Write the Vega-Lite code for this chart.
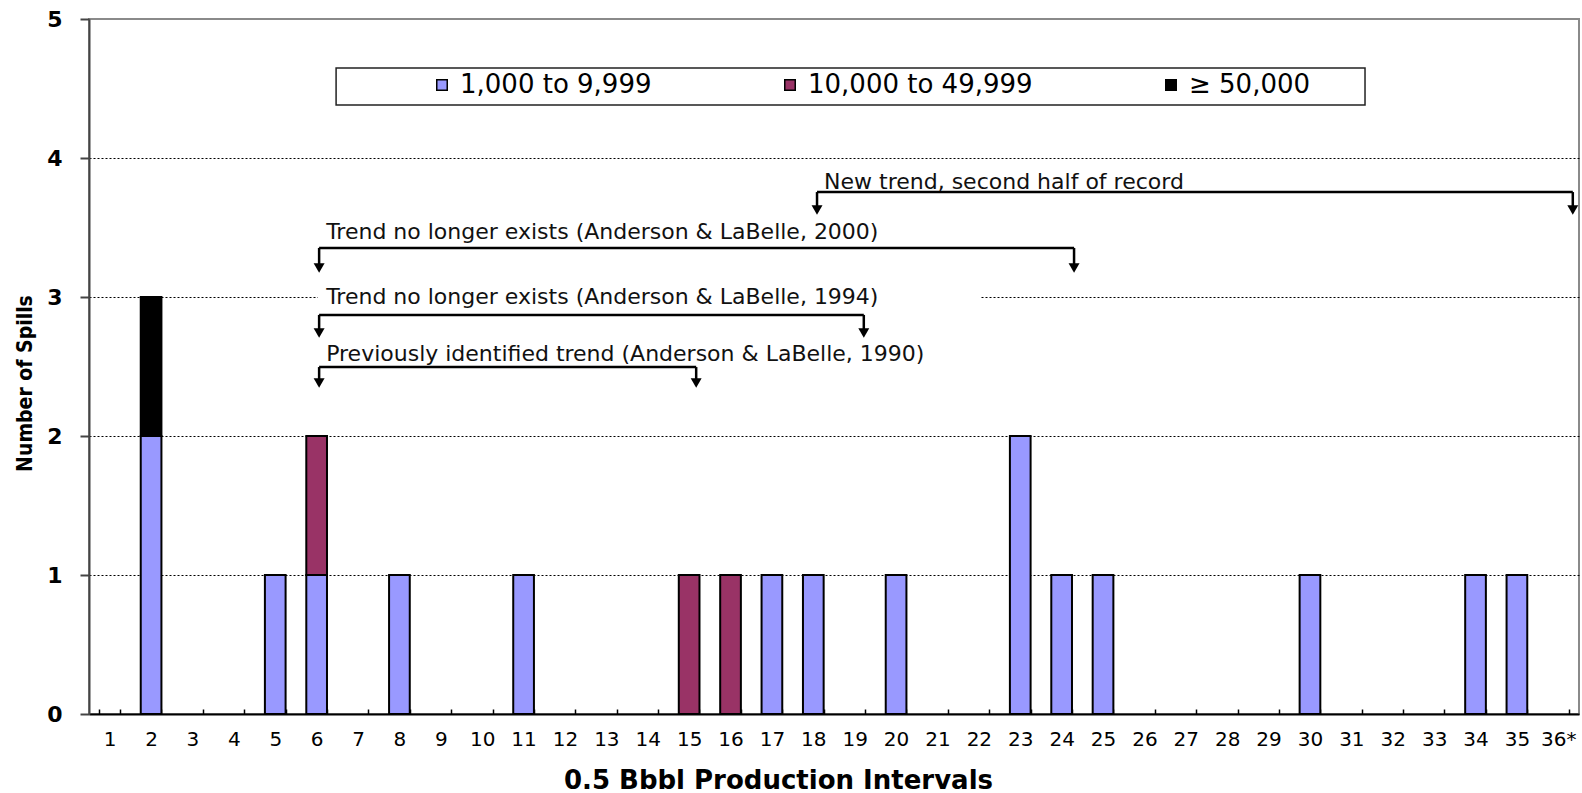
{
  "$schema": "https://vega.github.io/schema/vega-lite/v6.json",
  "width": 1490,
  "height": 695,
  "autosize": {"type": "none"},
  "padding": {"left": 89, "top": 19, "right": 3, "bottom": 79},
  "background": "white",
  "config": {
    "view": {"stroke": "#8a8a8a", "strokeWidth": 2},
    "font": "DejaVu Sans"
  },
  "datasets": {
    "spills": [
      {"interval": "2", "size": "1,000 to 9,999", "spills": 2, "rank": 1},
      {"interval": "2", "size": "≥ 50,000", "spills": 1, "rank": 3},
      {"interval": "5", "size": "1,000 to 9,999", "spills": 1, "rank": 1},
      {"interval": "6", "size": "1,000 to 9,999", "spills": 1, "rank": 1},
      {"interval": "6", "size": "10,000 to 49,999", "spills": 1, "rank": 2},
      {"interval": "8", "size": "1,000 to 9,999", "spills": 1, "rank": 1},
      {"interval": "11", "size": "1,000 to 9,999", "spills": 1, "rank": 1},
      {"interval": "15", "size": "10,000 to 49,999", "spills": 1, "rank": 2},
      {"interval": "16", "size": "10,000 to 49,999", "spills": 1, "rank": 2},
      {"interval": "17", "size": "1,000 to 9,999", "spills": 1, "rank": 1},
      {"interval": "18", "size": "1,000 to 9,999", "spills": 1, "rank": 1},
      {"interval": "20", "size": "1,000 to 9,999", "spills": 1, "rank": 1},
      {"interval": "23", "size": "1,000 to 9,999", "spills": 2, "rank": 1},
      {"interval": "24", "size": "1,000 to 9,999", "spills": 1, "rank": 1},
      {"interval": "25", "size": "1,000 to 9,999", "spills": 1, "rank": 1},
      {"interval": "30", "size": "1,000 to 9,999", "spills": 1, "rank": 1},
      {"interval": "34", "size": "1,000 to 9,999", "spills": 1, "rank": 1},
      {"interval": "35", "size": "1,000 to 9,999", "spills": 1, "rank": 1}
    ],
    "trends": [
      {"label": "New trend, second half of record", "from": 18.09, "to": 36.35, "textX": 18.26, "textY": 3.827, "lineY": 3.755, "tipY": 3.626},
      {"label": "Trend no longer exists (Anderson & LaBelle, 2000)", "from": 6.06, "to": 24.3, "textX": 6.23, "textY": 3.468, "lineY": 3.353, "tipY": 3.209},
      {"label": "Trend no longer exists (Anderson & LaBelle, 1994)", "from": 6.06, "to": 19.22, "textX": 6.23, "textY": 3.0, "lineY": 2.871, "tipY": 2.741, "maskFrom": 6.03, "maskTo": 22.03},
      {"label": "Previously identified trend (Anderson & LaBelle, 1990)", "from": 6.06, "to": 15.17, "textX": 6.23, "textY": 2.59, "lineY": 2.496, "tipY": 2.381}
    ]
  },
  "layer": [
    {
      "data": {"name": "spills"},
      "mark": {"type": "bar", "stroke": "black", "strokeWidth": 2},
      "encoding": {
        "x": {
          "field": "interval",
          "type": "ordinal",
          "scale": {
            "domain": ["1","2","3","4","5","6","7","8","9","10","11","12","13","14","15","16","17","18","19","20","21","22","23","24","25","26","27","28","29","30","31","32","33","34","35","36*"],
            "paddingInner": 0.5,
            "paddingOuter": 0.25
          },
          "axis": {
            "title": "0.5 Bbbl Production Intervals",
            "titleFont": "DejaVu Sans",
            "titleFontSize": 26,
            "titleFontWeight": "bold",
            "titleColor": "black",
            "titleX": 689,
            "titleY": 74,
            "titleBaseline": "alphabetic",
            "titleAlign": "center",
            "labelAngle": 0,
            "labelFont": "DejaVu Sans",
            "labelFontSize": 20,
            "labelColor": "black",
            "labelPadding": 20,
            "tickBand": "extent",
            "tickSize": -5,
            "tickColor": "black",
            "tickWidth": 1.5,
            "domainColor": "black",
            "domainWidth": 2,
            "grid": false
          }
        },
        "y": {
          "field": "spills",
          "type": "quantitative",
          "stack": "zero",
          "title": "Number of Spills",
          "scale": {"domain": [0, 5], "nice": false},
          "axis": {
            "values": [0, 1, 2, 3, 4, 5],
            "format": "d",
            "title": "Number of Spills",
            "titleFont": "Liberation Sans Narrow, DejaVu Sans Condensed, Liberation Sans",
            "titleFontSize": 21,
            "titleFontWeight": "bold",
            "titleColor": "black",
            "titleAngle": -90,
            "titleX": -64,
            "titleY": 364,
            "titleAlign": "center",
            "titleBaseline": "middle",
            "labelFont": "DejaVu Sans",
            "labelFontSize": 22,
            "labelFontWeight": "bold",
            "labelColor": "black",
            "labelPadding": 18,
            "tickSize": 9,
            "tickColor": "#444444",
            "tickWidth": 2,
            "domainColor": "#444444",
            "domainWidth": 2,
            "grid": true,
            "gridColor": "black",
            "gridDash": [2, 2],
            "gridWidth": 1,
            "gridOpacity": {"condition": {"test": "datum.value == 0 || datum.value == 5", "value": 0}, "value": 1}
          }
        },
        "color": {
          "field": "size",
          "type": "nominal",
          "scale": {
            "domain": ["1,000 to 9,999", "10,000 to 49,999", "≥ 50,000"],
            "range": ["#9999FF", "#993366", "#000000"]
          },
          "legend": {
            "orient": "none",
            "legendX": 340,
            "legendY": 53,
            "direction": "horizontal",
            "title": null,
            "symbolType": "square",
            "symbolSize": 110,
            "symbolStrokeColor": "black",
            "symbolStrokeWidth": 1.5,
            "labelFont": "DejaVu Sans",
            "labelFontSize": 26,
            "labelColor": "black",
            "labelOffset": 5,
            "labelLimit": 400,
            "columnPadding": 125,
            "padding": 0
          }
        },
        "order": {"field": "rank", "type": "quantitative"}
      }
    },
    {
      "data": {"name": "trends"},
      "encoding": {
        "x": {"type": "quantitative", "scale": {"domain": [0.5, 36.5], "nice": false, "zero": false}, "axis": null}
      },
      "layer": [
        {
          "data": {"values": [{"box": "legend"}]},
          "mark": {"type": "rect", "fill": "white", "stroke": "#222222", "strokeWidth": 1.5},
          "encoding": {
            "x": {"datum": 6.47, "type": "quantitative", "scale": {"domain": [0.5, 36.5], "nice": false, "zero": false}, "axis": null},
            "x2": {"datum": 31.33},
            "y": {"datum": 4.381, "type": "quantitative", "title": "Number of Spills"},
            "y2": {"datum": 4.647}
          }
        },
        {
          "transform": [{"filter": "isValid(datum.maskFrom)"}],
          "mark": {"type": "rect", "fill": "white"},
          "encoding": {
            "x": {"field": "maskFrom", "type": "quantitative", "axis": null},
            "x2": {"field": "maskTo"},
            "y": {"datum": 2.94, "type": "quantitative", "title": "Number of Spills"},
            "y2": {"datum": 3.06}
          }
        },
        {
          "mark": {"type": "rule", "color": "black", "strokeWidth": 2.5},
          "encoding": {
            "x": {"field": "from", "type": "quantitative", "axis": null},
            "x2": {"field": "to"},
            "y": {"field": "lineY", "type": "quantitative", "title": "Number of Spills"}
          }
        },
        {
          "transform": [{"fold": ["from", "to"], "as": ["end", "xpos"]}],
          "mark": {"type": "rule", "color": "black", "strokeWidth": 2.5},
          "encoding": {
            "x": {"field": "xpos", "type": "quantitative", "axis": null},
            "y": {"field": "lineY", "type": "quantitative", "title": "Number of Spills"},
            "y2": {"field": "tipY"}
          }
        },
        {
          "transform": [{"fold": ["from", "to"], "as": ["end", "xpos"]}],
          "mark": {"type": "point", "shape": "triangle-down", "filled": true, "color": "black", "size": 120, "opacity": 1},
          "encoding": {
            "x": {"field": "xpos", "type": "quantitative", "axis": null},
            "y": {"field": "tipY", "type": "quantitative", "title": "Number of Spills"}
          }
        },
        {
          "mark": {"type": "text", "align": "left", "baseline": "middle", "font": "DejaVu Sans", "fontSize": 22, "color": "#111111"},
          "encoding": {
            "x": {"field": "textX", "type": "quantitative", "axis": null},
            "y": {"field": "textY", "type": "quantitative", "title": "Number of Spills"},
            "text": {"field": "label"}
          }
        }
      ]
    }
  ],
  "resolve": {"scale": {"x": "independent"}, "axis": {"x": "independent"}}
}
